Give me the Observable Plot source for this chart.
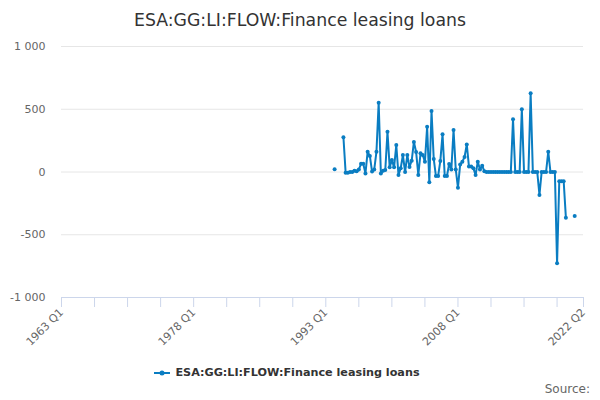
<!DOCTYPE html>
<html><head><meta charset="utf-8">
<script src="https://cdn.jsdelivr.net/npm/d3@7"></script>
<script src="https://cdn.jsdelivr.net/npm/@observablehq/plot@0.6"></script>
<style>
body{margin:0;background:#fff;font-family:"DejaVu Sans",Verdana,sans-serif;}
#wrap{width:600px;height:400px;overflow:hidden;}
#title{height:40px;line-height:40px;text-align:center;font-size:17.3px;color:#333;}
#chart svg{display:block;}
#legend{height:30px;line-height:30px;text-align:center;font-size:11.2px;font-weight:bold;color:#333;padding-right:26px;}
#legend svg{vertical-align:middle;margin-right:5px;}
#source{margin-top:-6px;line-height:14px;text-align:right;padding-right:10px;font-size:12px;color:#666;}
</style></head>
<body>
<div id="wrap">
<div id="title">ESA:GG:LI:FLOW:Finance leasing loans</div>
<div id="chart"></div>
<div id="legend"><svg width="16" height="10"><line x1="0" y1="5" x2="16" y2="5" stroke="#0a7dc2" stroke-width="2"/><circle cx="8" cy="5" r="2.5" fill="#0a7dc2"/></svg>ESA:GG:LI:FLOW:Finance leasing loans</div>
<div id="source">Source:</div>
</div>
<script>
const seriesName = "ESA:GG:LI:FLOW:Finance leasing loans";
// quarter index 0 = 1963 Q1; axis runs to 2022 Q2 (index 237)
const firstYear = 1963;
const lastIndex = 237;
const tickLabels = ["1963 Q1", "1978 Q1", "1993 Q1", "2008 Q1", "2022 Q2"];
const tickLabelIndex = [0, 60, 120, 180, 237];
const yTicks = [-1000, -500, 0, 500, 1000];
// values from 1994 Q1 (index 124) to 2021 Q2 (index 233); null = missing
const seriesStart = 124;
const values = [
  21, null, null, null,
  277, -5, -5, 0,
  0, 10, 5, 20,
  65, 65, -11, 162,
  128, 3, 20, 162,
  552, -11, 10, 15,
  321, 37, 96, 37,
  215, -24, 30, 135,
  0, 135, 40, 90,
  240, 160, -24, 149,
  135, 82, 361, -82,
  486, 104, -32, -32,
  88, 300, -32, -32,
  64, 20, 335, 20,
  -125, 60, 82, 120,
  220, 43, 43, 30,
  -24, 82, 20, 50,
  5, 0, 0, 0,
  0, 0, 0, 0,
  0, 0, 0, 0,
  0, 420, 0, 0,
  0, 500, 0, 0,
  0, 627, 0, 0,
  0, -183, 0, 0,
  0, 162, 0, 0,
  0, -728, -74, -74,
  -74, -364, null, null,
  null, -351
];
const data = values.map((v, i) => ({q: seriesStart + i, v}));
const color = "#0a7dc2";
const minorTicks = d3.range(0, 226, 15).concat([lastIndex]);
const labelFor = q => { const k = tickLabelIndex.indexOf(q); return k >= 0 ? tickLabels[k] : ""; };
const fmtY = d => (d < 0 ? "-" : "") + d3.format(",")(Math.abs(d)).replace(/,/g, " ");

const chart = Plot.plot({
  width: 600, height: 318,
  marginTop: 6, marginBottom: 61, marginLeft: 61, marginRight: 17,
  style: {fontFamily: "DejaVu Sans, Verdana, sans-serif", fontSize: "11px", color: "#666", background: "#fff", overflow: "visible"},
  x: {type: "linear", domain: [0, lastIndex]},
  y: {domain: [-1000, 1000]},
  marks: [
    Plot.gridY(yTicks, {stroke: "#e6e6e6", strokeOpacity: 1}),
    Plot.axisY(yTicks, {tickSize: 0, tickPadding: 16, tickFormat: fmtY, fill: "#666", label: null}),
    Plot.axisX(minorTicks, {tickSize: 10, tickPadding: 3, stroke: "#ccd6eb", tickRotate: -45, tickFormat: labelFor, fill: "#666", label: null}),
    Plot.ruleY([-1000], {stroke: "#ccd6eb"}),
    Plot.line(data, {x: "q", y: "v", stroke: color, strokeWidth: 2}),
    Plot.dot(data.filter(d => d.v !== null), {x: "q", y: "v", r: 2, fill: color})
  ]
});
document.getElementById("chart").appendChild(chart);
</script>
</body></html>
